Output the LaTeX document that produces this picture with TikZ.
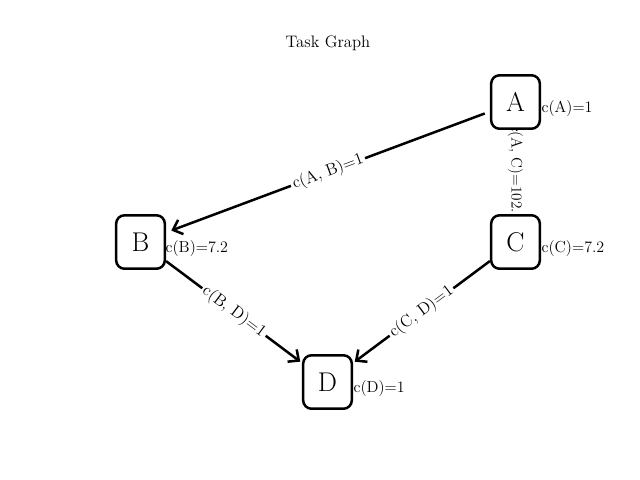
\documentclass[tikz,border=0pt]{standalone}
\usetikzlibrary{arrows.meta,backgrounds}
\begin{document}
\begin{tikzpicture}[x=0.72pt,y=-0.72pt,
  task/.style={draw, line width=1.8pt, rounded corners=6pt, fill=white,
    minimum width=35pt, minimum height=38.5pt, inner sep=0pt,
    font=\fontsize{19.5}{22}\selectfont},
  cost/.style={anchor=west, inner sep=1pt, font=\fontsize{11.5}{13}\selectfont},
  edge/.style={line width=1.8pt, -{Straight Barb[length=6pt,width=11pt]}, shorten >=1.5pt},
  elabel/.style={fill=white, inner sep=1.5pt, font=\fontsize{12}{14}\selectfont}]
\useasboundingbox (0,0) rectangle (640,480);
\node[font=\fontsize{12}{14}\selectfont] (title) at (328,43) {Task Graph};
\node[task] (A) at (515.5,102) {A};
\node[task] (B) at (140.5,242) {B};
\node[task] (C) at (515.5,242) {C};
\node[task] (D) at (327.5,382) {D};
\node[cost] (cA) at (540,109) {c(A)=1};
\node[cost] (cB) at (164,249) {c(B)=7.2};
\node[cost] (cC) at (540,249) {c(C)=7.2};
\node[cost] (cD) at (352,389) {c(D)=1};
\begin{pgfonlayer}{background}
\fill[white] (0,0) rectangle (640,480);
\draw[edge, shorten <=4pt, shorten >=4pt] (A) -- node[elabel, sloped] (lAB) {c(A, B)=1} (B);
\draw[edge] (B) -- node[elabel, sloped] (lBD) {c(B, D)=1} (D);
\draw[edge] (C) -- node[elabel, sloped] (lCD) {c(C, D)=1} (D);
\draw[edge] (A) -- (C);
\node[elabel, rotate=-90, font=\fontsize{11}{13}\selectfont] (lAC) at (515.5,169) {c(A, C)=102.};
\end{pgfonlayer}
\end{tikzpicture}
\end{document}
